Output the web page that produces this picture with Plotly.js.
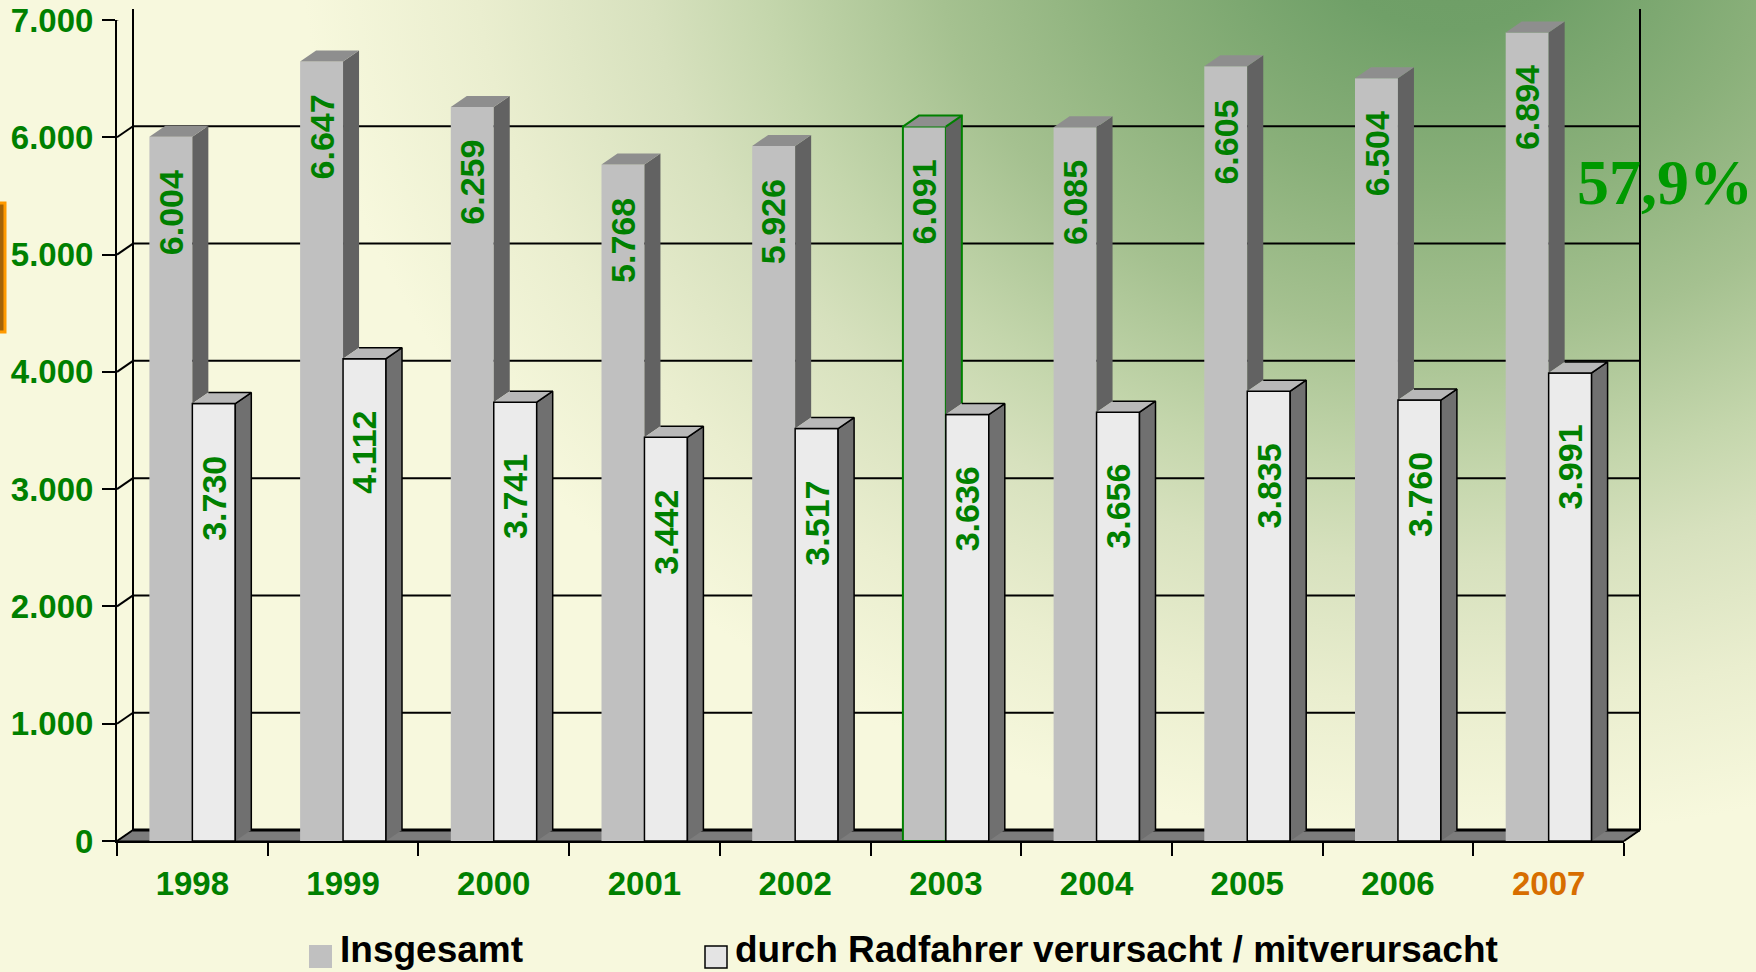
<!DOCTYPE html>
<html><head><meta charset="utf-8">
<script src="https://cdn.plot.ly/plotly-3.0.1.min.js"></script>
<style>
html,body{margin:0;padding:0;width:1756px;height:972px;overflow:hidden;}
body{background:#F8F9DE radial-gradient(ellipse 1150px 920px at 1450px -80px,#6C9C64 0%,#70A068 12%,#8AB07A 29%,#A5C190 45%,#C4D6AC 60%,#D7E1BE 70%,#EAEECF 85%,#F7F8DD 100%) no-repeat;}
#chart{width:1756px;height:972px;}
</style></head><body><div id="chart"></div>
<script>
// ---- data ----
const YEARS = [1998,1999,2000,2001,2002,2003,2004,2005,2006,2007];
const TOTAL = [6004,6647,6259,5768,5926,6091,6085,6605,6504,6894];
const CYCLIST = [3730,4112,3741,3442,3517,3636,3656,3835,3760,3991];
const SERIES_NAMES = ['Insgesamt','durch Radfahrer verursacht / mitverursacht'];
const Y_TICKS = [0,1000,2000,3000,4000,5000,6000,7000];
const SHARE_LABEL = '57,9%';
const HIGHLIGHT_YEAR = 2003;
const ACCENT_YEAR = 2007;

// ---- layout constants ----
const W=1756,H=972,M={l:117,r:132,t:20,b:131};
const PW=W-M.l-M.r, PH=H-M.t-M.b;
const Y_MAX=7000;
const DEPTH_X=16, DEPTH_Y=11;
const BARGAP=0.43, BW=(1-BARGAP)/2;
const DX=DEPTH_X/(PW/YEARS.length), DY=DEPTH_Y/(PH/Y_MAX);
const DXP=DEPTH_X/PW, DYP=DEPTH_Y/PH;
const px=(p)=>(p-M.l)/PW, py=(p)=>(H-M.b-p)/PH;
const FONT='Liberation Sans, Arial, sans-serif';
const GREEN='#008000', ORANGE='#D76E00';
const fmt=(v)=>String(v).replace(/\B(?=(\d{3})+(?!\d))/g,'.');

function polys(list){const xs=[],ys=[];list.forEach(p=>{p.forEach(q=>{xs.push(q[0]);ys.push(q[1]);});xs.push(null);ys.push(null);});return {x:xs,y:ys};}

const greySide=[],greyTop=[],whiteSide=[],whiteTop=[];
YEARS.forEach((yr,i)=>{
  const g=TOTAL[i], w=CYCLIST[i];
  if(g>w) greySide.push([[yr,w],[yr,g],[yr+DX,g+DY],[yr+DX,w+DY]]);
  greyTop.push([[yr-BW,g],[yr,g],[yr+DX,g+DY],[yr-BW+DX,g+DY]]);
  whiteSide.push([[yr+BW,0],[yr+BW,w],[yr+BW+DX,w+DY],[yr+BW+DX,DY]]);
  whiteTop.push([[yr,w],[yr+BW,w],[yr+BW+DX,w+DY],[yr+DX,w+DY]]);
});
const hi=YEARS.indexOf(HIGHLIGHT_YEAR);
const hg=TOTAL[hi], hw=CYCLIST[hi], hx=YEARS[hi];

const fillTrace=(p,color,line)=>Object.assign({type:'scatter',mode:'lines',fill:'toself',fillcolor:color,
  line:line||{width:0,color:color},hoverinfo:'skip',showlegend:false},polys(p));

const traces=[
 {type:'bar',name:SERIES_NAMES[0],x:YEARS,y:TOTAL,marker:{color:'#C0C0C0',
   line:{color:YEARS.map(y=>y===HIGHLIGHT_YEAR?GREEN:'rgba(0,0,0,0)'),width:YEARS.map(y=>y===HIGHLIGHT_YEAR?2:0)}},
   hoverinfo:'skip',showlegend:false},
 {type:'bar',name:SERIES_NAMES[1],x:YEARS,y:CYCLIST,marker:{color:'#EBEBEB',line:{color:'#000',width:1.5}},
   hoverinfo:'skip',showlegend:false},
 fillTrace(greySide,'#626262'),
 fillTrace(greyTop,'#8E8E8E'),
 {type:'scatter',mode:'lines',x:[hx-BW,hx-BW+DX,hx+DX,hx+DX,null,hx,hx+DX],
   y:[hg,hg+DY,hg+DY,hw+DY,null,hg,hg+DY],line:{color:GREEN,width:2},hoverinfo:'skip',showlegend:false},
 fillTrace(whiteSide,'#707070',{color:'#000',width:1.5}),
 fillTrace(whiteTop,'#B8B8B8',{color:'#000',width:1.5})
];

const shapes=[];
// floor
shapes.push({type:'path',xref:'paper',yref:'paper',layer:'below',
  path:`M0,0 L1,0 L${1+DXP},${DYP} L${DXP},${DYP} Z`,fillcolor:'#7C7C7C',line:{color:'#000',width:1}});
shapes.push({type:'line',xref:'paper',yref:'paper',layer:'below',x0:DXP,x1:1+DXP,y0:DYP,y1:DYP,line:{color:'#000',width:3}});
// back walls
shapes.push({type:'line',xref:'paper',yref:'paper',layer:'below',x0:DXP,x1:DXP,y0:DYP,y1:1+DYP,line:{color:'#000',width:2}});
shapes.push({type:'line',xref:'paper',yref:'paper',layer:'below',x0:1+DXP,x1:1+DXP,y0:DYP,y1:1+DYP,line:{color:'#000',width:2}});
shapes.push({type:'line',xref:'paper',yref:'paper',layer:'below',x0:1,x1:1+DXP,y0:0,y1:DYP,line:{color:'#000',width:2}});
// gridlines on back wall + connectors on the side wall
Y_TICKS.forEach(v=>{
  if(v>0) shapes.push({type:'line',xref:'paper',yref:'y',ysizemode:'pixel',yanchor:v,layer:'below',
    x0:DXP,x1:1+DXP,y0:DEPTH_Y,y1:DEPTH_Y,line:{color:'#000',width:2}});
  shapes.push({type:'line',xref:'paper',yref:'y',ysizemode:'pixel',yanchor:v,layer:'below',
    x0:0,x1:DXP,y0:0,y1:DEPTH_Y,line:{color:'#000',width:2}});
});
// clipped orange box at left edge
shapes.push({type:'rect',xref:'paper',yref:'paper',layer:'above',x0:px(-30),x1:px(5),y0:py(332),y1:py(203),
  fillcolor:'#A56406',line:{color:'#FF9A00',width:3}});
// legend squares
shapes.push({type:'rect',xref:'paper',yref:'paper',x0:px(309),x1:px(332),y0:py(968),y1:py(945),fillcolor:'#C0C0C0',line:{width:0}});
shapes.push({type:'rect',xref:'paper',yref:'paper',x0:px(705),x1:px(727),y0:py(968),y1:py(946),fillcolor:'#E4E4E4',line:{color:'#000',width:1.5}});

const annotations=[];
const LBL={family:FONT,size:34,color:GREEN,weight:'bold'};
YEARS.forEach((yr,i)=>{
  annotations.push({xref:'x',yref:'y',x:yr-BW/2,y:TOTAL[i],yanchor:'top',xanchor:'center',yshift:-31,textangle:-90,
    text:fmt(TOTAL[i]),showarrow:false,font:LBL});
  annotations.push({xref:'x',yref:'y',x:yr+BW/2,y:CYCLIST[i],yanchor:'top',xanchor:'center',yshift:-50,textangle:-90,
    text:fmt(CYCLIST[i]),showarrow:false,font:LBL});
});
annotations.push({xref:'paper',yref:'paper',x:px(1665),y:py(182),xanchor:'center',yanchor:'middle',showarrow:false,
  text:'<b>'+SHARE_LABEL+'</b>',font:{family:'Liberation Serif, Times New Roman, serif',size:64,color:'#009900'}});
annotations.push({xref:'paper',yref:'paper',x:px(339),y:py(971),xanchor:'left',yanchor:'bottom',borderpad:0,showarrow:false,
  text:SERIES_NAMES[0],font:{family:FONT,size:37,color:'#000',weight:'bold'}});
annotations.push({xref:'paper',yref:'paper',x:px(734),y:py(971),xanchor:'left',yanchor:'bottom',borderpad:0,showarrow:false,
  text:SERIES_NAMES[1],font:{family:FONT,size:37,color:'#000',weight:'bold'}});

const boundaries=YEARS.map(y=>y-0.5).concat([YEARS[YEARS.length-1]+0.5]);
const layout={
  width:W,height:H,margin:M,paper_bgcolor:'rgba(0,0,0,0)',plot_bgcolor:'rgba(0,0,0,0)',
  separators:',.',barmode:'group',bargap:BARGAP,bargroupgap:0,showlegend:false,
  xaxis:{type:'linear',range:[YEARS[0]-0.5,YEARS[YEARS.length-1]+0.5],tickmode:'array',tickvals:YEARS,
    ticktext:YEARS.map(y=>y===ACCENT_YEAR?`<span style="color:${ORANGE}">${y}</span>`:String(y)),
    ticks:'',showgrid:false,zeroline:false,showline:true,linecolor:'#000',linewidth:2,ticklabelstandoff:12,
    tickfont:{family:FONT,size:33,color:GREEN,weight:'bold'},
    minor:{tickmode:'array',tickvals:boundaries,ticks:'outside',ticklen:13,tickwidth:2,tickcolor:'#000',showgrid:false}},
  yaxis:{range:[0,Y_MAX],tickmode:'array',tickvals:Y_TICKS,tickformat:',d',ticks:'outside',ticklen:13,tickwidth:2,
    tickcolor:'#000',showline:true,linecolor:'#000',linewidth:2,showgrid:false,zeroline:false,ticklabelstandoff:2,
    tickfont:{family:FONT,size:33,color:GREEN,weight:'bold'}},
  shapes:shapes,annotations:annotations
};
Plotly.newPlot('chart',traces,layout,{staticPlot:true,displayModeBar:false});
</script></body></html>
